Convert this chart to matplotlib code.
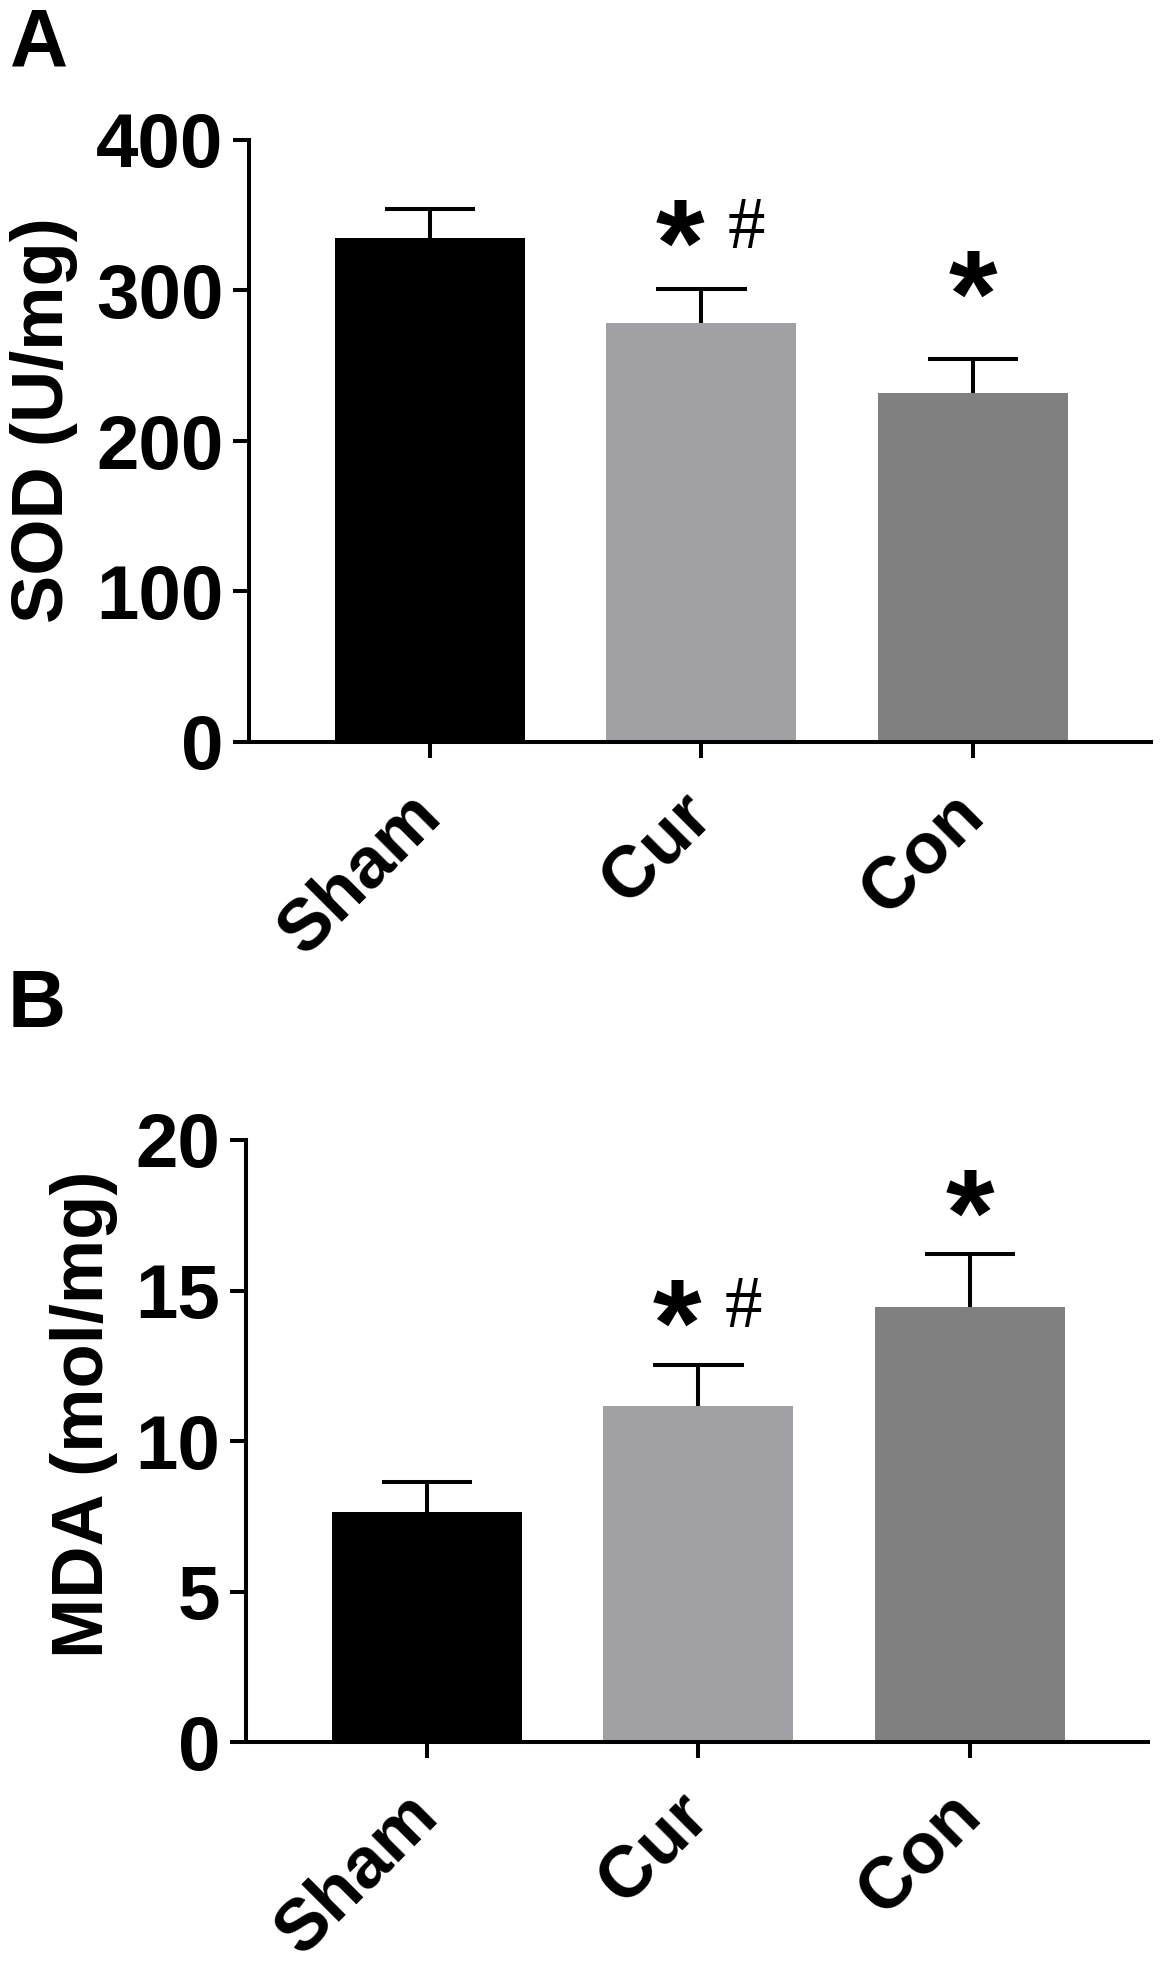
import numpy as np
import matplotlib
matplotlib.use("Agg")
import matplotlib.pyplot as plt
from matplotlib.transforms import ScaledTranslation

plt.rcParams['font.family'] = ['Liberation Sans', 'DejaVu Sans']
plt.rcParams['font.weight'] = 'bold'

groups = ['Sham', 'Cur', 'Con']
colors = ['#000000', '#a1a1a5', '#808080']

sod_mean = [335, 278.5, 232]
sod_err = [19, 22.5, 22.5]
sod_ticks = [0, 100, 200, 300, 400]

mda_mean = [7.65, 11.15, 14.45]
mda_err = [1.0, 1.38, 1.75]
mda_ticks = [0, 5, 10, 15, 20]

# significance marks per group
stars = ['', '*', '*']
hashes = ['', '#', '']

W, H = 1167, 1967
fig = plt.figure(figsize=(W / 100, H / 100), dpi=100)

def panel(rect, mean, err, ticks, star_off, hash_off):
    ax = fig.add_axes(rect)
    x = np.arange(len(groups))
    ax.bar(x, mean, width=0.70, color=colors, zorder=2)
    top = np.array(mean) + np.array(err)
    ax.vlines(x, mean, top, color='black', lw=2.9, zorder=3)
    ax.hlines(top, x - 0.166, x + 0.166, color='black', lw=2.9, zorder=3)
    ax.set_xlim(-0.667, 2.656)
    ax.set_ylim(ticks[0], ticks[-1])
    ax.set_yticks(ticks)
    ax.set_xticks(x)
    ax.set_xticklabels(groups, rotation=45, ha='right', va='center',
                       rotation_mode='anchor', fontsize=52)
    shift = ScaledTranslation(6 / 100, 0, fig.dpi_scale_trans)
    for lab in ax.get_xticklabels():
        lab.set_transform(lab.get_transform() + shift)
    ax.tick_params(axis='y', labelsize=55, length=11.5, width=2.9, pad=7)
    ax.tick_params(axis='x', length=11.5, width=2.9, pad=33)
    for s in ['top', 'right']:
        ax.spines[s].set_visible(False)
    for s in ['left', 'bottom']:
        ax.spines[s].set_linewidth(2.9)
    ax.spines['left'].set_capstyle('projecting')
    for i in range(len(groups)):
        if stars[i]:
            dx = -0.08 if hashes[i] else 0.0
            ax.annotate(stars[i], xy=(i + dx, top[i]), xytext=(0, star_off[i]),
                        textcoords='offset pixels', ha='center', va='center',
                        fontsize=90, fontweight='bold', zorder=4)
        if hashes[i]:
            ax.annotate(hashes[i], xy=(i + 0.165, top[i]), xytext=(0, hash_off[i]),
                        textcoords='offset pixels', ha='center', va='center',
                        fontsize=54, fontweight='normal',
                        family=['Liberation Serif', 'DejaVu Serif'], zorder=4)
    return ax

axA = panel([249 / W, 1 - 742 / H, 902 / W, 602 / H], sod_mean, sod_err,
            sod_ticks, [0, 35, 54], [0, 59, 0])
axB = panel([246 / W, 1 - 1742 / H, 902 / W, 602 / H], mda_mean, mda_err,
            mda_ticks, [0, 31, 31], [0, 56, 0])

fig.text(44 / W, 1 - 420 / H, 'SOD (U/mg)', rotation=90, ha='center', va='center', fontsize=52)
fig.text(84 / W, 1 - 1414 / H, 'MDA (mol/mg)', rotation=90, ha='center', va='center', fontsize=52)

fig.text(10 / W, 1 - 6 / H, 'A', ha='left', va='top', fontsize=58)
fig.text(8 / W, 1 - 968 / H, 'B', ha='left', va='top', fontsize=58)

fig.savefig('out.png', dpi=100)
